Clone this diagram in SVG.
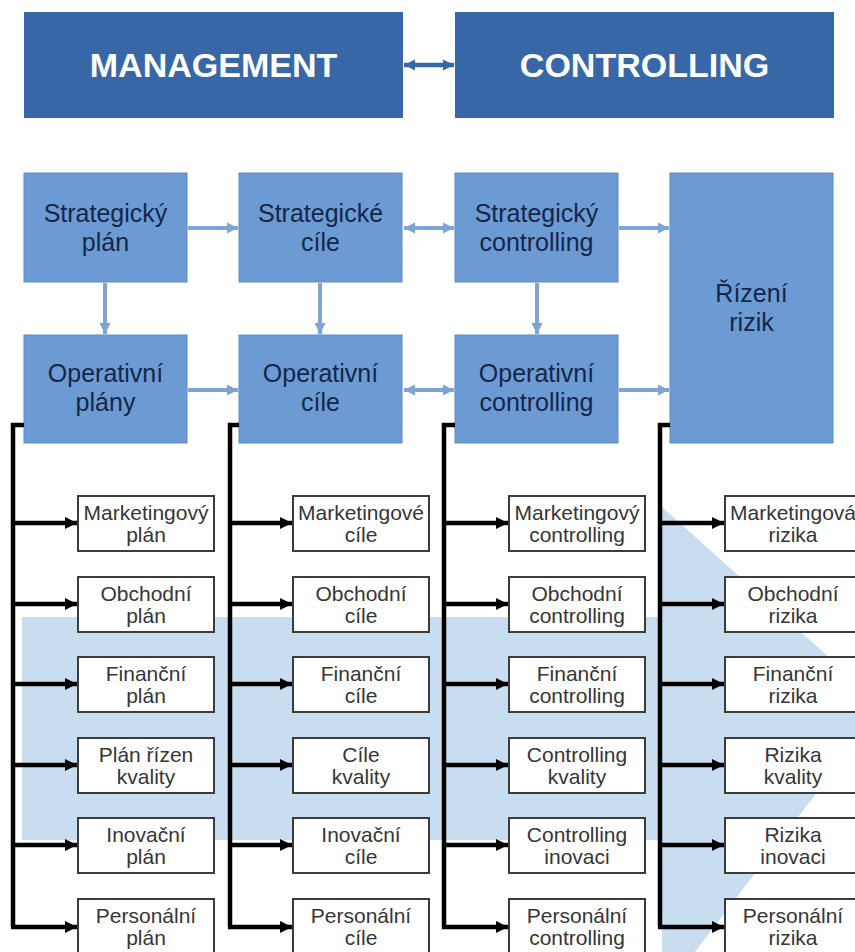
<svg xmlns="http://www.w3.org/2000/svg" width="855" height="952" viewBox="0 0 855 952">
  <style>
    .hdr { fill: #3867a7; }
    .hdr-t { font-family: "Liberation Sans", Arial, sans-serif; font-weight: bold; font-size: 34px; fill: #ffffff; text-anchor: middle; }
    .blk { fill: #6b9bd2; stroke: #5d8bc4; stroke-width: 1; }
    .blk-t { font-family: "Liberation Sans", Arial, sans-serif; font-size: 25px; fill: #15264a; text-anchor: middle; }
    .sub { fill: #ffffff; stroke: #3c3c3c; stroke-width: 2; }
    .sub-t { font-family: "Liberation Sans", Arial, sans-serif; font-size: 21px; fill: #363636; text-anchor: middle; }
    .flow { fill: none; stroke: #7ea4d6; stroke-width: 4; }
    .link { fill: none; stroke: #3867a7; stroke-width: 4.5; }
    .tree { fill: none; stroke: #000000; stroke-width: 4.5; }
  </style>
  <defs>
    <marker id="hFlow" viewBox="0 0 10 10" refX="10" refY="5" markerWidth="11" markerHeight="13" markerUnits="userSpaceOnUse" orient="auto-start-reverse">
      <path d="M0,0 L10,5 L0,10 z" fill="#7ea4d6"/>
    </marker>
    <marker id="hLink" viewBox="0 0 10 10" refX="10" refY="5" markerWidth="11" markerHeight="14" markerUnits="userSpaceOnUse" orient="auto-start-reverse">
      <path d="M0,0 L10,5 L0,10 z" fill="#3867a7"/>
    </marker>
    <marker id="hTree" viewBox="0 0 10 10" refX="10" refY="5" markerWidth="12" markerHeight="14" markerUnits="userSpaceOnUse" orient="auto">
      <path d="M0,0 L10,5 L0,10 z" fill="#000000"/>
    </marker>
  </defs>

  <rect width="855" height="952" fill="#ffffff"/>

  <!-- light background chevron behind the detail boxes -->
  <polygon points="22,617 662,617 662,507 883,706 662,995 662,840 22,840" fill="#c8ddf0"/>

  <!-- header -->
  <g id="management">
    <rect class="hdr" x="24" y="12" width="379" height="106"/>
    <text class="hdr-t" x="213.5" y="77">MANAGEMENT</text>
  </g>
  <g id="controlling">
    <rect class="hdr" x="455" y="12" width="379" height="106"/>
    <text class="hdr-t" x="644.5" y="77">CONTROLLING</text>
  </g>

  <!-- main blocks -->
  <g id="strategicky-plan">
    <rect class="blk" x="24" y="173" width="163" height="109"/>
    <text class="blk-t" x="105.5" y="222">Strategický</text>
    <text class="blk-t" x="105.5" y="251">plán</text>
  </g>
  <g id="strategicke-cile">
    <rect class="blk" x="239" y="173" width="163" height="109"/>
    <text class="blk-t" x="320.5" y="222">Strategické</text>
    <text class="blk-t" x="320.5" y="251">cíle</text>
  </g>
  <g id="strategicky-controlling">
    <rect class="blk" x="455" y="173" width="163" height="109"/>
    <text class="blk-t" x="536.5" y="222">Strategický</text>
    <text class="blk-t" x="536.5" y="251">controlling</text>
  </g>
  <g id="rizeni-rizik">
    <rect class="blk" x="670" y="173" width="163" height="270"/>
    <text class="blk-t" x="751.5" y="302">Řízení</text>
    <text class="blk-t" x="751.5" y="331">rizik</text>
  </g>
  <g id="operativni-plany">
    <rect class="blk" x="24" y="335" width="163" height="108"/>
    <text class="blk-t" x="105.5" y="382">Operativní</text>
    <text class="blk-t" x="105.5" y="411">plány</text>
  </g>
  <g id="operativni-cile">
    <rect class="blk" x="239" y="335" width="163" height="108"/>
    <text class="blk-t" x="320.5" y="382">Operativní</text>
    <text class="blk-t" x="320.5" y="411">cíle</text>
  </g>
  <g id="operativni-controlling">
    <rect class="blk" x="455" y="335" width="163" height="108"/>
    <text class="blk-t" x="536.5" y="382">Operativní</text>
    <text class="blk-t" x="536.5" y="411">controlling</text>
  </g>

  <!-- detail boxes, column 1 -->
  <g id="marketingovy-plan"><rect class="sub" x="78" y="496" width="136" height="55"/><text class="sub-t" x="146" y="520">Marketingový</text><text class="sub-t" x="146" y="542">plán</text></g>
  <g id="obchodni-plan"><rect class="sub" x="78" y="577" width="136" height="55"/><text class="sub-t" x="146" y="601">Obchodní</text><text class="sub-t" x="146" y="623">plán</text></g>
  <g id="financni-plan"><rect class="sub" x="78" y="657" width="136" height="55"/><text class="sub-t" x="146" y="681">Finanční</text><text class="sub-t" x="146" y="703">plán</text></g>
  <g id="plan-kvality"><rect class="sub" x="78" y="738" width="136" height="55"/><text class="sub-t" x="146" y="762">Plán řízen</text><text class="sub-t" x="146" y="784">kvality</text></g>
  <g id="inovacni-plan"><rect class="sub" x="78" y="818" width="136" height="55"/><text class="sub-t" x="146" y="842">Inovační</text><text class="sub-t" x="146" y="864">plán</text></g>
  <g id="personalni-plan"><rect class="sub" x="78" y="899" width="136" height="55"/><text class="sub-t" x="146" y="923">Personální</text><text class="sub-t" x="146" y="945">plán</text></g>

  <!-- detail boxes, column 2 -->
  <g id="marketingove-cile"><rect class="sub" x="293" y="496" width="136" height="55"/><text class="sub-t" x="361" y="520">Marketingové</text><text class="sub-t" x="361" y="542">cíle</text></g>
  <g id="obchodni-cile"><rect class="sub" x="293" y="577" width="136" height="55"/><text class="sub-t" x="361" y="601">Obchodní</text><text class="sub-t" x="361" y="623">cíle</text></g>
  <g id="financni-cile"><rect class="sub" x="293" y="657" width="136" height="55"/><text class="sub-t" x="361" y="681">Finanční</text><text class="sub-t" x="361" y="703">cíle</text></g>
  <g id="cile-kvality"><rect class="sub" x="293" y="738" width="136" height="55"/><text class="sub-t" x="361" y="762">Cíle</text><text class="sub-t" x="361" y="784">kvality</text></g>
  <g id="inovacni-cile"><rect class="sub" x="293" y="818" width="136" height="55"/><text class="sub-t" x="361" y="842">Inovační</text><text class="sub-t" x="361" y="864">cíle</text></g>
  <g id="personalni-cile"><rect class="sub" x="293" y="899" width="136" height="55"/><text class="sub-t" x="361" y="923">Personální</text><text class="sub-t" x="361" y="945">cíle</text></g>

  <!-- detail boxes, column 3 -->
  <g id="marketingovy-controlling"><rect class="sub" x="509" y="496" width="136" height="55"/><text class="sub-t" x="577" y="520">Marketingový</text><text class="sub-t" x="577" y="542">controlling</text></g>
  <g id="obchodni-controlling"><rect class="sub" x="509" y="577" width="136" height="55"/><text class="sub-t" x="577" y="601">Obchodní</text><text class="sub-t" x="577" y="623">controlling</text></g>
  <g id="financni-controlling"><rect class="sub" x="509" y="657" width="136" height="55"/><text class="sub-t" x="577" y="681">Finanční</text><text class="sub-t" x="577" y="703">controlling</text></g>
  <g id="controlling-kvality"><rect class="sub" x="509" y="738" width="136" height="55"/><text class="sub-t" x="577" y="762">Controlling</text><text class="sub-t" x="577" y="784">kvality</text></g>
  <g id="controlling-inovaci"><rect class="sub" x="509" y="818" width="136" height="55"/><text class="sub-t" x="577" y="842">Controlling</text><text class="sub-t" x="577" y="864">inovaci</text></g>
  <g id="personalni-controlling"><rect class="sub" x="509" y="899" width="136" height="55"/><text class="sub-t" x="577" y="923">Personální</text><text class="sub-t" x="577" y="945">controlling</text></g>

  <!-- detail boxes, column 4 -->
  <g id="marketingova-rizika"><rect class="sub" x="725" y="496" width="136" height="55"/><text class="sub-t" x="793" y="520">Marketingová</text><text class="sub-t" x="793" y="542">rizika</text></g>
  <g id="obchodni-rizika"><rect class="sub" x="725" y="577" width="136" height="55"/><text class="sub-t" x="793" y="601">Obchodní</text><text class="sub-t" x="793" y="623">rizika</text></g>
  <g id="financni-rizika"><rect class="sub" x="725" y="657" width="136" height="55"/><text class="sub-t" x="793" y="681">Finanční</text><text class="sub-t" x="793" y="703">rizika</text></g>
  <g id="rizika-kvality"><rect class="sub" x="725" y="738" width="136" height="55"/><text class="sub-t" x="793" y="762">Rizika</text><text class="sub-t" x="793" y="784">kvality</text></g>
  <g id="rizika-inovaci"><rect class="sub" x="725" y="818" width="136" height="55"/><text class="sub-t" x="793" y="842">Rizika</text><text class="sub-t" x="793" y="864">inovaci</text></g>
  <g id="personalni-rizika"><rect class="sub" x="725" y="899" width="136" height="55"/><text class="sub-t" x="793" y="923">Personální</text><text class="sub-t" x="793" y="945">rizika</text></g>

  <!-- connectors -->
  <g id="connectors">
    <line class="link" x1="404" y1="65" x2="454" y2="65" marker-start="url(#hLink)" marker-end="url(#hLink)"/>

    <line class="flow" x1="188" y1="228" x2="238" y2="228" marker-end="url(#hFlow)"/>
    <line class="flow" x1="404" y1="228" x2="454" y2="228" marker-start="url(#hFlow)" marker-end="url(#hFlow)"/>
    <line class="flow" x1="619" y1="228" x2="669" y2="228" marker-end="url(#hFlow)"/>
    <line class="flow" x1="188" y1="390" x2="238" y2="390" marker-end="url(#hFlow)"/>
    <line class="flow" x1="404" y1="390" x2="454" y2="390" marker-start="url(#hFlow)" marker-end="url(#hFlow)"/>
    <line class="flow" x1="619" y1="390" x2="669" y2="390" marker-end="url(#hFlow)"/>
    <line class="flow" x1="105" y1="283" x2="105" y2="334" marker-end="url(#hFlow)"/>
    <line class="flow" x1="320" y1="283" x2="320" y2="334" marker-end="url(#hFlow)"/>
    <line class="flow" x1="537" y1="283" x2="537" y2="334" marker-end="url(#hFlow)"/>

    <path class="tree" d="M24,425 H13 V927"/>
    <path class="tree" d="M239,425 H230 V927"/>
    <path class="tree" d="M455,425 H444 V927"/>
    <path class="tree" d="M670,425 H660 V927"/>

    <g id="col1-branches">
      <line class="tree" x1="13" y1="523" x2="77" y2="523" marker-end="url(#hTree)"/>
      <line class="tree" x1="13" y1="604" x2="77" y2="604" marker-end="url(#hTree)"/>
      <line class="tree" x1="13" y1="684" x2="77" y2="684" marker-end="url(#hTree)"/>
      <line class="tree" x1="13" y1="765" x2="77" y2="765" marker-end="url(#hTree)"/>
      <line class="tree" x1="13" y1="845" x2="77" y2="845" marker-end="url(#hTree)"/>
      <line class="tree" x1="11" y1="927" x2="77" y2="927" marker-end="url(#hTree)"/>
    </g>
    <g id="col2-branches">
      <line class="tree" x1="230" y1="523" x2="292" y2="523" marker-end="url(#hTree)"/>
      <line class="tree" x1="230" y1="604" x2="292" y2="604" marker-end="url(#hTree)"/>
      <line class="tree" x1="230" y1="684" x2="292" y2="684" marker-end="url(#hTree)"/>
      <line class="tree" x1="230" y1="765" x2="292" y2="765" marker-end="url(#hTree)"/>
      <line class="tree" x1="230" y1="845" x2="292" y2="845" marker-end="url(#hTree)"/>
      <line class="tree" x1="228" y1="927" x2="292" y2="927" marker-end="url(#hTree)"/>
    </g>
    <g id="col3-branches">
      <line class="tree" x1="444" y1="523" x2="508" y2="523" marker-end="url(#hTree)"/>
      <line class="tree" x1="444" y1="604" x2="508" y2="604" marker-end="url(#hTree)"/>
      <line class="tree" x1="444" y1="684" x2="508" y2="684" marker-end="url(#hTree)"/>
      <line class="tree" x1="444" y1="765" x2="508" y2="765" marker-end="url(#hTree)"/>
      <line class="tree" x1="444" y1="845" x2="508" y2="845" marker-end="url(#hTree)"/>
      <line class="tree" x1="442" y1="927" x2="508" y2="927" marker-end="url(#hTree)"/>
    </g>
    <g id="col4-branches">
      <line class="tree" x1="660" y1="523" x2="724" y2="523" marker-end="url(#hTree)"/>
      <line class="tree" x1="660" y1="604" x2="724" y2="604" marker-end="url(#hTree)"/>
      <line class="tree" x1="660" y1="684" x2="724" y2="684" marker-end="url(#hTree)"/>
      <line class="tree" x1="660" y1="765" x2="724" y2="765" marker-end="url(#hTree)"/>
      <line class="tree" x1="660" y1="845" x2="724" y2="845" marker-end="url(#hTree)"/>
      <line class="tree" x1="658" y1="927" x2="724" y2="927" marker-end="url(#hTree)"/>
    </g>
  </g>
</svg>
